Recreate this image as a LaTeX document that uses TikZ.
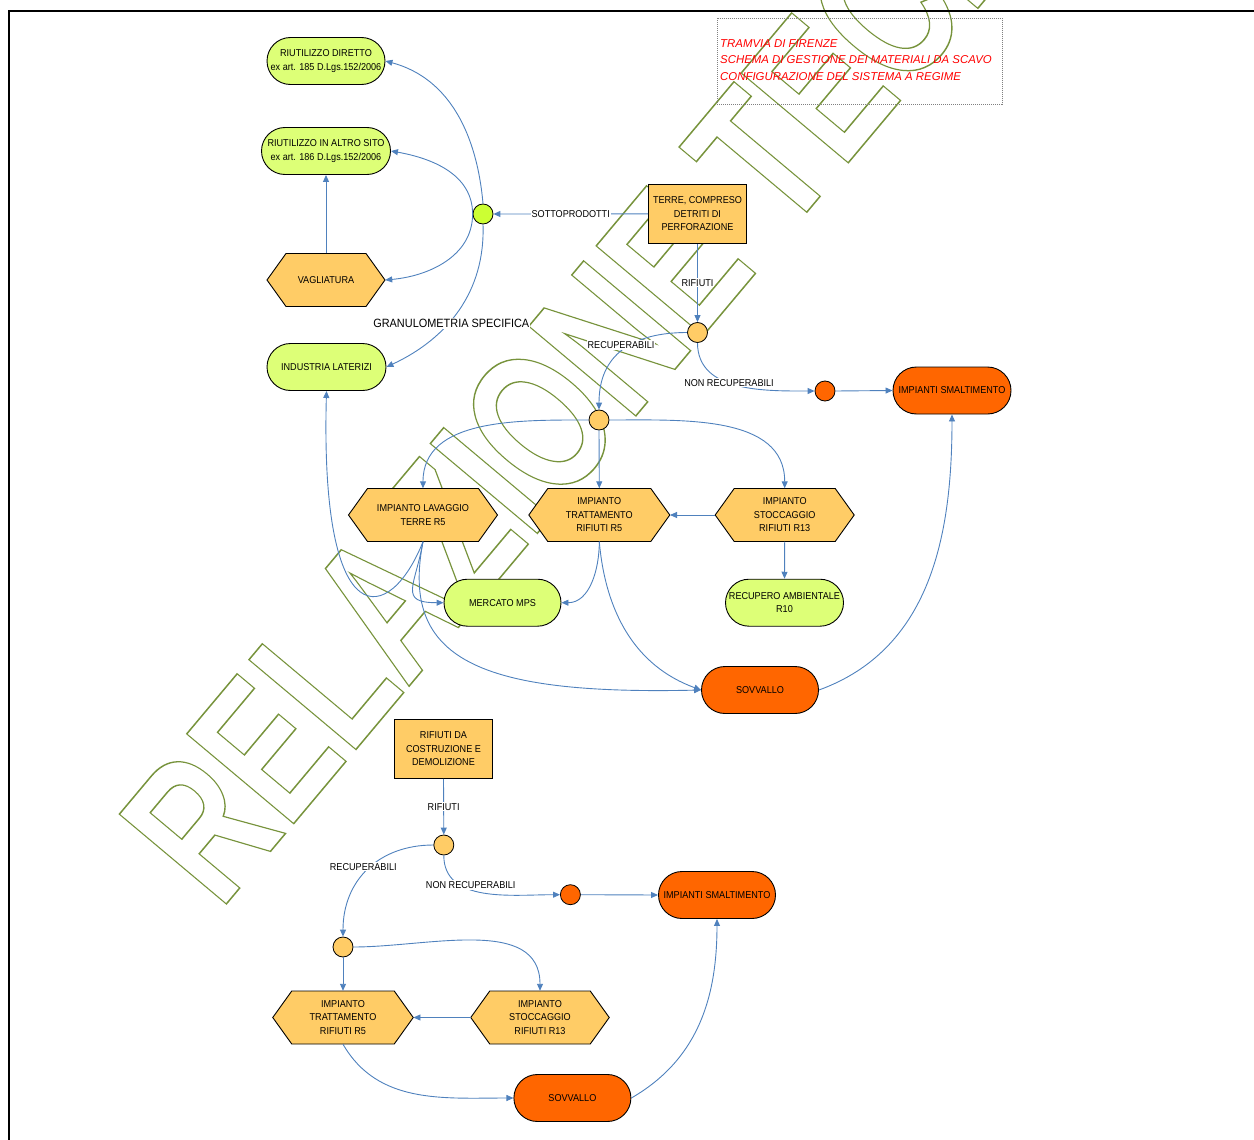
\documentclass[tikz,border=0pt]{standalone}
\usepackage{fontspec}
\setmainfont{Liberation Sans}
\newfontfamily\nf{Liberation Sans}[FakeStretch=0.91]
\newfontfamily\tf{Liberation Sans}
\newfontfamily\wf{Liberation Sans}
\usetikzlibrary{arrows.meta}
\definecolor{oy}{RGB}{255,204,102}
\definecolor{lg}{RGB}{221,255,119}
\definecolor{limec}{RGB}{204,255,51}
\definecolor{dor}{RGB}{255,102,0}
\definecolor{eb}{RGB}{79,129,189}
\definecolor{wmc}{RGB}{119,147,60}
\tikzset{
 basetext/.style={font=\nf\fontsize{10}{13.5}\selectfont, align=center, inner sep=0pt, text=black},
 stad/.style={basetext, draw=black, line width=0.9pt, rounded corners=23.5pt, minimum height=47pt},
 gstad/.style={stad, fill=lg},
 ostad/.style={stad, fill=dor},
 rectbox/.style={basetext, draw=black, line width=0.9pt, fill=oy, minimum width=98pt, minimum height=59pt},
 hexbox/.style={basetext, minimum height=53pt},
 hexfill/.style={fill=oy, draw=black, line width=0.9pt, line join=miter},
 junc/.style={circle, draw=black, line width=0.8pt, minimum size=20pt, inner sep=0pt},
 edge/.style={draw=eb, line width=0.9pt, -{Triangle[length=7pt,width=6pt]}},
 lbl/.style={basetext, fill=white, inner sep=1pt},
 ttl/.style={font=\tf\itshape\fontsize{11.4}{16.5}\selectfont, text=red, align=left, inner sep=0pt},
 wmtext/.style={anchor=base west, rotate=50, xscale=0.715, transform shape, inner sep=0pt, text=wmc, font=\wf\bfseries\fontsize{203}{203}\selectfont},
}
\newcommand\hexnode[5]{%
 \draw[hexfill] ({#2-#4/2},#3) -- ({#2-#4/2+19},{#3+26.5}) -- ({#2+#4/2-19},{#3+26.5}) -- ({#2+#4/2},#3) -- ({#2+#4/2-19},{#3-26.5}) -- ({#2-#4/2+19},{#3-26.5}) -- cycle;
 \node[hexbox, minimum width=#4pt] (#1) at (#2,#3) {#5};}
\begin{document}
\begin{tikzpicture}[x=1pt,y=1pt]
\useasboundingbox (0,0) rectangle (1254,-1140);
\begin{scope}
\clip (0,0) rectangle (1254,-1140);
\node[wmtext] (wmk) at (220,-911.5) {\special{pdf:literal direct 1 Tr 1.5 w 0.467 0.576 0.235 RG}RELAZIONE TECNICA\special{pdf:literal direct 0 Tr}};
\draw[line width=2.3pt, line join=miter] (9,-1150) -- (9,-11) -- (1265,-11);
\end{scope}

% title
\node[draw=gray, line width=0.7pt, dash pattern=on 1pt off 1pt, minimum width=285pt, minimum height=86pt, anchor=north west, inner sep=0pt] (tbox) at (717,-18) {};
\node[ttl, anchor=north west] (ttl) at (720,-39) {TRAMVIA DI FIRENZE\\SCHEMA DI GESTIONE DEI MATERIALI DA SCAVO\\CONFIGURAZIONE DEL SISTEMA A REGIME};

% upper scheme nodes
\node[gstad, minimum width=118pt] (rd) at (326,-61) {RIUTILIZZO DIRETTO\\ex art. 185 D.Lgs.152/2006};
\node[gstad, minimum width=129pt] (ras) at (326,-151) {RIUTILIZZO IN ALTRO SITO\\ex art. 186 D.Lgs.152/2006};
\hexnode{vag}{326}{-280}{118}{VAGLIATURA}
\node[gstad, minimum width=119pt] (ind) at (326.5,-367) {INDUSTRIA LATERIZI};
\node[junc, fill=limec] (gc) at (483,-214) {};
\node[rectbox] (terre) at (697.5,-213.8) {TERRE, COMPRESO\\DETRITI DI\\PERFORAZIONE};
\node[junc, fill=oy] (c1) at (697.5,-332.5) {};
\node[junc, fill=oy] (c2) at (599,-420) {};
\node[junc, fill=dor] (dc1) at (825,-391) {};
\node[ostad, minimum width=118pt] (sm1) at (952,-390.5) {IMPIANTI SMALTIMENTO};
\hexnode{lav}{423}{-515}{149}{IMPIANTO LAVAGGIO\\TERRE R5}
\hexnode{tr1}{599.3}{-515}{141}{IMPIANTO\\TRATTAMENTO\\RIFIUTI R5}
\hexnode{st1}{784.7}{-515}{139}{IMPIANTO\\STOCCAGGIO\\RIFIUTI R13}
\node[gstad, minimum width=117pt] (mer) at (502.5,-602.7) {MERCATO MPS};
\node[gstad, minimum width=118pt] (rec) at (784.5,-602.7) {RECUPERO AMBIENTALE\\R10};
\node[ostad, minimum width=117pt] (sov1) at (760,-690) {SOVVALLO};

% lower scheme nodes
\node[rectbox] (rif) at (443.5,-749) {RIFIUTI DA\\COSTRUZIONE E\\DEMOLIZIONE};
\node[junc, fill=oy] (c3) at (443.8,-845) {};
\node[junc, fill=dor] (dc2) at (570.4,-894.7) {};
\node[ostad, minimum width=117pt] (sm2) at (717,-895) {IMPIANTI SMALTIMENTO};
\node[junc, fill=oy] (c4) at (343,-947) {};
\hexnode{tr2}{343}{-1017.5}{140.5}{IMPIANTO\\TRATTAMENTO\\RIFIUTI R5}
\hexnode{st2}{540}{-1017.5}{138.5}{IMPIANTO\\STOCCAGGIO\\RIFIUTI R13}
\node[ostad, minimum width=117pt] (sov2) at (572.4,-1098) {SOVVALLO};

% upper connectors
\draw[edge] (terre.west) -- node[lbl] (l1) {SOTTOPRODOTTI} (gc.east);
\draw[edge] (gc.north) to[out=95,in=-15] (rd.east);
\draw[edge] (gc.west) to[out=90,in=-10] (ras.east);
\draw[edge] (gc.west) to[out=-90,in=5] (vag.east);
\draw[edge] (gc.south) to[out=-88,in=25] (ind.east);
\draw[edge] (vag.north) -- (ras.south);
\draw[edge] (terre.south) -- node[lbl] (l2) {RIFIUTI} (c1.north);
\draw[edge] (c1.west) to[out=180,in=90,looseness=1.2] (c2.north);
\draw[edge] (c1.south) to[out=-90,in=180] (dc1.west);
\draw[edge] (dc1.east) -- (sm1.west);
\draw[edge] (c2.west) to[out=180,in=90] (lav.north);
\draw[edge] (c2.south) -- (tr1.north);
\draw[edge] (c2.east) to[out=0,in=90] (st1.north);
\draw[edge] (st1.west) -- (tr1.east);
\draw[edge] (st1.south) -- (rec.north);
\draw[edge] (tr1.south) to[out=-90,in=0] (mer.east);
\draw[edge] (tr1.south) to[out=-85,in=160] (sov1.west);
\draw[edge] (lav.south) .. controls +(-33,-83) and +(-6.5,-249) .. (ind.south);
\draw[edge] (lav.south) to[out=-100,in=180,looseness=1.8] (mer.west);
\draw[edge] (lav.south) .. controls +(-23,-118) and +(-222,-5) .. (sov1.west);
\draw[edge] (sov1.east) to[out=20,in=-90] (sm1.south);
\node[lbl] (l3) at (621,-345) {RECUPERABILI};
\node[lbl] (l4) at (729,-382.7) {NON RECUPERABILI};
\node[lbl, font=\nf\fontsize{12}{14}\selectfont] (l5) at (451.3,-323.3) {GRANULOMETRIA SPECIFICA};

% lower connectors
\draw[edge] (rif.south) -- node[lbl] (l6) {RIFIUTI} (c3.north);
\draw[edge] (c3.west) to[out=180,in=90,looseness=1.1] (c4.north);
\draw[edge] (c3.south) to[out=-90,in=180] (dc2.west);
\draw[edge] (dc2.east) -- (sm2.west);
\draw[edge] (c4.south) -- (tr2.north);
\draw[edge] (c4.east) to[out=0,in=90] (st2.north);
\draw[edge] (st2.west) -- (tr2.east);
\draw[edge] (tr2.south) to[out=-60,in=180] (sov2.west);
\draw[edge] (sov2.east) to[out=30,in=-90] (sm2.south);
\node[lbl] (l7) at (363.3,-866.7) {RECUPERABILI};
\node[lbl] (l8) at (470.7,-885) {NON RECUPERABILI};
\end{tikzpicture}
\end{document}
